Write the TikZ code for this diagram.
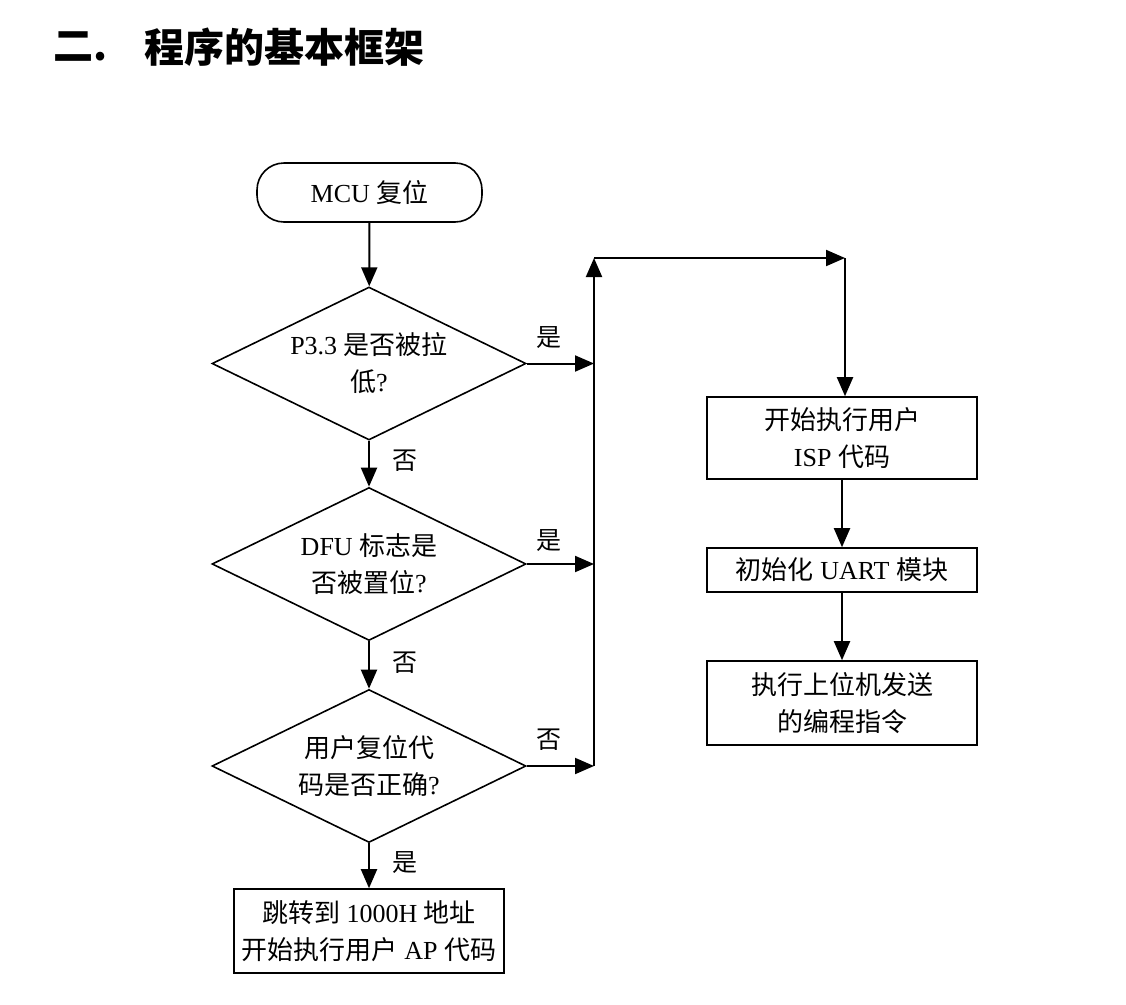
\documentclass[tikz,border=0pt]{standalone}
\usepackage{fontspec}
\setmainfont{Liberation Serif}
\newfontfamily\cjk{Noto Sans CJK SC}
\usetikzlibrary{shapes.geometric,arrows.meta}
\begin{document}
\begin{tikzpicture}[x=1pt,y=-1pt,
  every node/.style={font=\fontsize{26}{37}\selectfont},
  boxstyle/.style={draw,line width=1.6pt,minimum width=270pt,inner sep=0pt,align=center},
  decision/.style={draw,diamond,aspect=2.05,line width=1.6pt,minimum width=314pt,minimum height=153pt,inner sep=0pt,align=center},
  startstyle/.style={draw,line width=1.6pt,rounded corners=27pt,minimum width=225pt,minimum height=59pt,inner sep=0pt},
  lbl/.style={inner sep=0pt,font=\fontsize{25}{36}\selectfont\cjk},
  arr/.style={line width=2pt,-{Triangle[width=16pt,length=19pt]}}]
\useasboundingbox (0,0) rectangle (1126,1004);
% title
\node[anchor=west,inner sep=0pt,font=\fontsize{40}{44}\selectfont\cjk\bfseries] (t1) at (53,47) {二.};
\node[anchor=west,inner sep=0pt,font=\fontsize{40}{44}\selectfont\cjk\bfseries] (t2) at (144,47) {程序的基本框架};
% nodes
\node[startstyle] (start) at (369.5,192.5) {MCU {\cjk 复位}};
\node[decision] (d1) at (369,363.5) {P3.3 {\cjk 是否被拉}\\{\cjk 低}?};
\node[decision] (d2) at (369,564) {DFU {\cjk 标志是}\\{\cjk 否被置位}?};
\node[decision] (d3) at (369,766) {{\cjk 用户复位代}\\{\cjk 码是否正确}?};
\node[boxstyle,minimum height=84pt] (jump) at (369,931) {{\cjk 跳转到} 1000H {\cjk 地址}\\{\cjk 开始执行用户} AP {\cjk 代码}};
\node[boxstyle,minimum height=82pt] (isp) at (842,438) {{\cjk 开始执行用户}\\ISP {\cjk 代码}};
\node[boxstyle,minimum height=44pt] (uart) at (842,570) {{\cjk 初始化} UART {\cjk 模块}};
\node[boxstyle,minimum height=84pt] (prog) at (842,703) {{\cjk 执行上位机发送}\\{\cjk 的编程指令}};
% coordinates
\coordinate (jtop) at (594,258);
\coordinate (jbot) at (594,766);
\coordinate (jright) at (845,258);
% connectors
\draw[arr] (start) -- (d1);
\draw[arr] (d1) -- (d2);
\draw[arr] (d2) -- (d3);
\draw[arr] (d3) -- (jump);
\draw[arr] (d1.east) -- (d1.east -| jtop);
\draw[arr] (d2.east) -- (d2.east -| jtop);
\draw[arr] (d3.east) -- (jbot);
\draw[arr] (jbot) -- (jtop);
\draw[arr] (jtop) -- (jright);
\draw[arr] (jright) -- (jright |- isp.north);
\draw[arr] (isp) -- (uart);
\draw[arr] (uart) -- (prog);
% labels
\node[lbl] (l1) at (549,338) {是};
\node[lbl] (l2) at (549,541) {是};
\node[lbl] (l3) at (549,740) {否};
\node[lbl] (l4) at (405,461) {否};
\node[lbl] (l5) at (405,663) {否};
\node[lbl] (l6) at (405,863) {是};
\end{tikzpicture}
\end{document}
